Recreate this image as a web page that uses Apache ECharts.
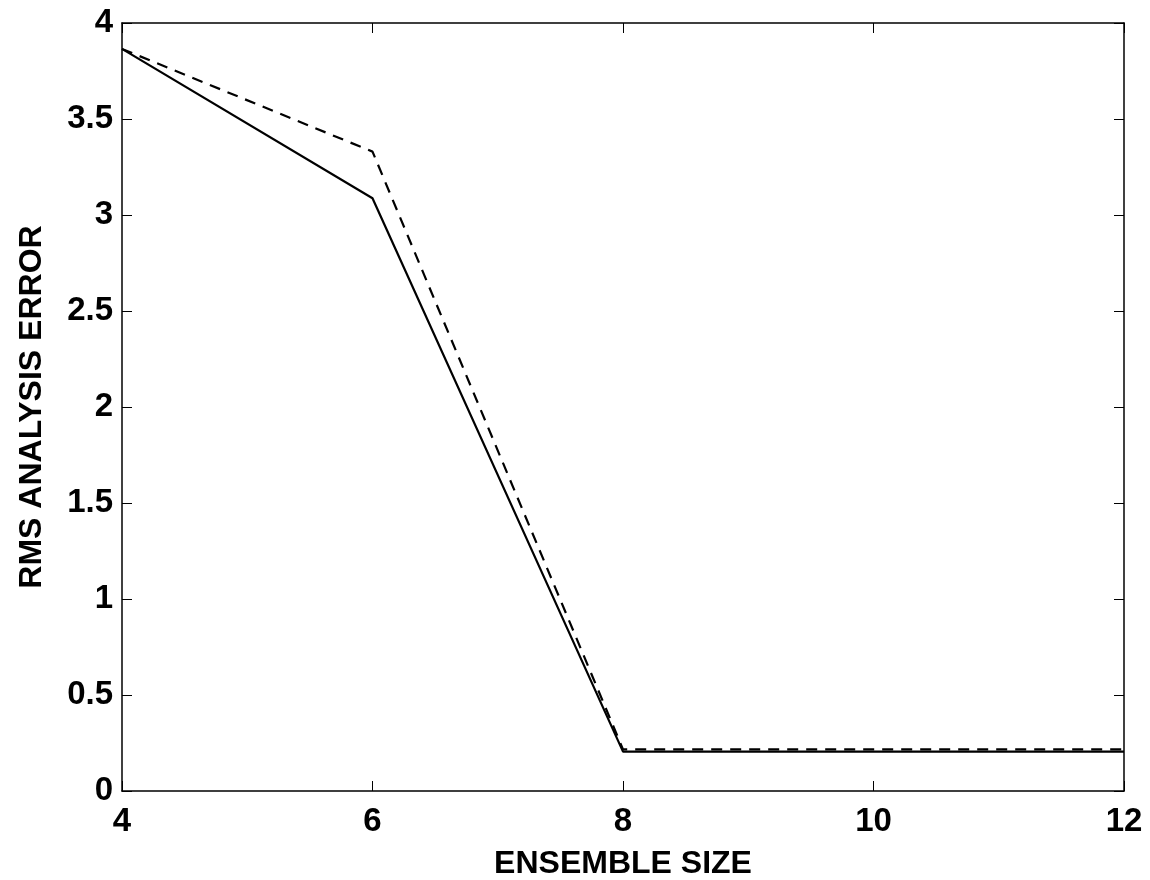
<!DOCTYPE html>
<html>
<head>
<meta charset="utf-8">
<script src="https://cdn.jsdelivr.net/npm/echarts@6/dist/echarts.min.js"></script>
<style>html,body{margin:0;padding:0;background:#fff;}#c{width:1150px;height:880px;}</style>
</head>
<body>
<div id="c"></div>
<script>
const ensembleSize = [4, 6, 8, 10, 12];
const solidValues = [3.865, 3.087, 0.205, 0.205, 0.205];
const dashedValues = [3.865, 3.33, 0.217, 0.217, 0.217];
const xTicks = [4, 6, 8, 10, 12];

const chart = echarts.init(document.getElementById('c'));
const font = 'Liberation Sans, Arial, sans-serif';
const axisCommon = {
  axisLine: {show: true, onZero: false, lineStyle: {color: '#000', width: 1.5}},
  axisTick: {show: true, inside: true, length: 10, lineStyle: {color: '#000', width: 1}},
  splitLine: {show: false}
};
chart.setOption({
  animation: false,
  backgroundColor: '#fff',
  grid: {left: 122, right: 26, top: 23, bottom: 89, containLabel: false, outerBoundsMode: 'none'},
  xAxis: [
    Object.assign({type: 'value', min: 4, max: 12, interval: 2, position: 'bottom',
      name: 'ENSEMBLE SIZE', nameLocation: 'middle', nameGap: 57,
      nameTextStyle: {fontFamily: font, fontWeight: 'bold', fontSize: 32, color: '#000'},
      axisLabel: {fontFamily: font, fontWeight: 'bold', fontSize: 33, color: '#000', margin: 14}}, axisCommon),
    Object.assign({type: 'value', min: 4, max: 12, interval: 2, position: 'top',
      axisLabel: {show: false}}, axisCommon)
  ],
  yAxis: [
    Object.assign({type: 'value', min: 0, max: 4, interval: 0.5, position: 'left',
      name: 'RMS ANALYSIS ERROR', nameLocation: 'middle', nameGap: 74,
      nameTextStyle: {fontFamily: font, fontWeight: 'bold', fontSize: 32, color: '#000'},
      axisLabel: {fontFamily: font, fontWeight: 'bold', fontSize: 33, color: '#000', margin: 9}}, axisCommon),
    Object.assign({type: 'value', min: 0, max: 4, interval: 0.5, position: 'right',
      axisLabel: {show: false}}, axisCommon)
  ],
  series: [
    {type: 'line', data: ensembleSize.map((x, i) => [x, dashedValues[i]]), symbol: 'none',
      lineStyle: {color: '#000', width: 2.2, type: [11, 8]}},
    {type: 'line', data: ensembleSize.map((x, i) => [x, solidValues[i]]), symbol: 'none',
      lineStyle: {color: '#000', width: 2.2}}
  ]
});
</script>
</body>
</html>
